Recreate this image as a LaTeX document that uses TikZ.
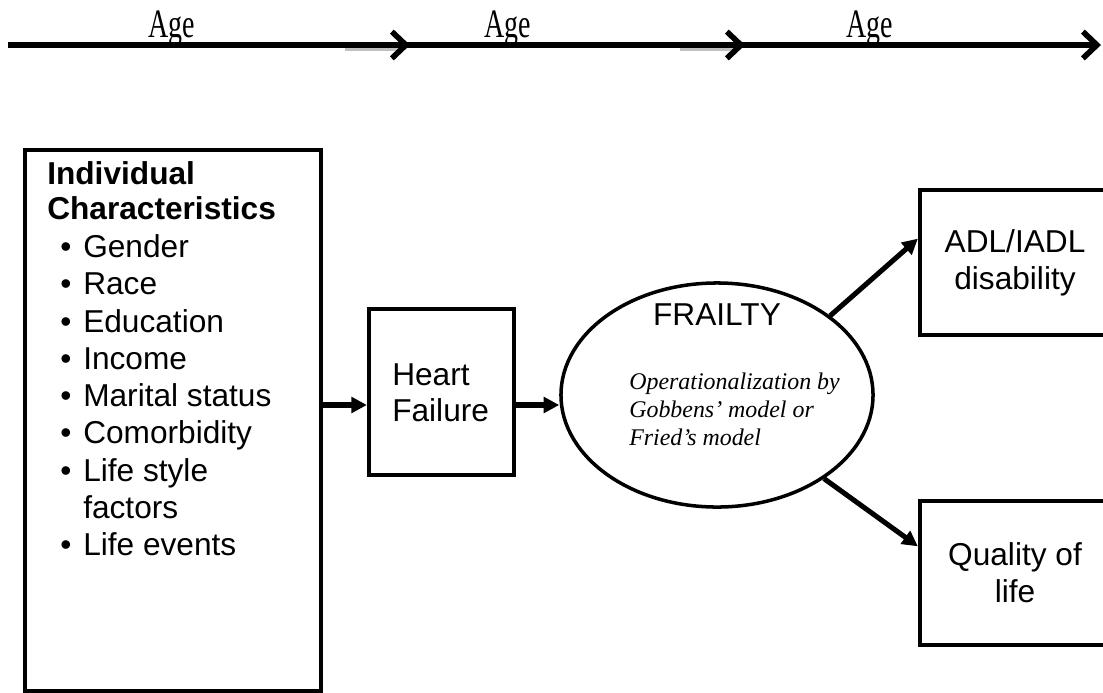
\documentclass[tikz,border=0pt]{standalone}
\usepackage{fontspec}
\setmainfont{Liberation Serif}
\setsansfont{Liberation Sans}
\usetikzlibrary{arrows.meta,shapes.geometric,calc}
\tikzset{
	box/.style={draw, rectangle, line width=3pt, inner sep=0pt},
	oval/.style={draw, ellipse, line width=2.5pt, inner sep=0pt},
	txt/.style={font=\sffamily\fontsize{22.5}{26.3}\selectfont, inner sep=0pt},
	arr/.style={line width=3.6pt, -{Triangle[length=11pt,width=11pt]}},
	timeline/.style={line width=4pt, -{Straight Barb[length=10pt,width=19pt]}},
	agelabel/.style={font=\fontsize{20.5}{24}\selectfont, inner sep=0pt, anchor=base},
}
\begin{document}
\begin{tikzpicture}[x=0.025cm, y=-0.025cm]
				\useasboundingbox (0,0) rectangle (1103,692);
				\clip (0,0) rectangle (1103,692);
				% time line
				\coordinate (T0) at (8,45);
				\coordinate (T1) at (410,45);
				\coordinate (S1) at (345,45);
				\coordinate (T2) at (745,45);
				\coordinate (S2) at (680,45);
				\coordinate (T3) at (1101,45);
				\draw [gray!50, line width=6pt] ($(S1)+(0,2)$) -- ($(T1)+(-12,2)$);
				\draw [gray!50, line width=6pt] ($(S2)+(0,2)$) -- ($(T2)+(-12,2)$);
				\draw [timeline] (T0) -- (T1);
				\draw [timeline] (S1) -- (T2);
				\draw [timeline] (S2) -- (T3);
				\node [agelabel] (age1) at (172,37) {\scalebox{0.97}[1.4]{Age}};
				\node [agelabel] (age2) at (508,37) {\scalebox{0.97}[1.4]{Age}};
				\node [agelabel] (age3) at (870,37) {\scalebox{0.97}[1.4]{Age}};
				% boxes
				\node [box, minimum width=7.4cm, minimum height=13.525cm] (indiv) at (173,420.5) {};
				\node [box, minimum width=3.625cm, minimum height=4.15cm] (heart) at (441.5,392) {};
				\node [oval, minimum width=7.8cm, minimum height=5.6cm] (frail) at (717,395) {};
				\node [box, minimum width=4.75cm, minimum height=3.625cm] (adl) at (1015,262.5) {};
				\node [box, minimum width=4.75cm, minimum height=3.6cm] (qol) at (1015,573) {};
				% individual characteristics
				\node [txt, font=\sffamily\bfseries\fontsize{22.5}{26.3}\selectfont, anchor=base west] (title1) at (47,184) {Individual};
				\node [txt, font=\sffamily\bfseries\fontsize{22.5}{26.3}\selectfont, anchor=base west] (title2) at (47,219) {Characteristics};
				\foreach \n/\yy/\t in {1/257/Gender, 2/294/Race, 3/332/Education, 4/369/Income, 5/406/Marital status, 6/443/Comorbidity, 7/481/Life style, 8/555/Life events}
				{
					\node [txt, anchor=base west] (item\n) at (83,\yy) {\t};
					\node [txt, anchor=base east, xshift=-8pt] (dot\n) at (item\n.base west) {\textbullet};
				}
				\node [txt, anchor=base west] (item7b) at (83,518) {factors};
				% inner texts
				\node [txt, align=left, anchor=base west] (hftext) at (392,421) {Heart\\[-0.7pt]Failure};
				\node [txt, anchor=base] (frailtext) at (717,325) {FRAILTY};
				\node [inner sep=0pt, align=left, anchor=base west, font=\itshape\fontsize{17}{19.6}\selectfont] (optext) at (629,445) {Operationalization by\\Gobbens' model or\\Fried's model};
				\node [txt, align=center] (adltext) at (adl) {ADL/IADL\\disability};
				\node [txt, align=center] (qoltext) at (qol) {Quality of\\life};
				% connectors
				\coordinate (row) at (0,405);
				\draw [arr] (indiv.east |- row) -- (heart.west |- row);
				\draw [arr] (heart.east |- row) -- (frail.west |- row);
				\draw [arr] (frail.35) -- ($(adl.north west)!0.34!(adl.south west)$);
				\draw [arr] (frail.-38) -- ($(qol.north west)!0.32!(qol.south west)$);
			\end{tikzpicture}
\end{document}
